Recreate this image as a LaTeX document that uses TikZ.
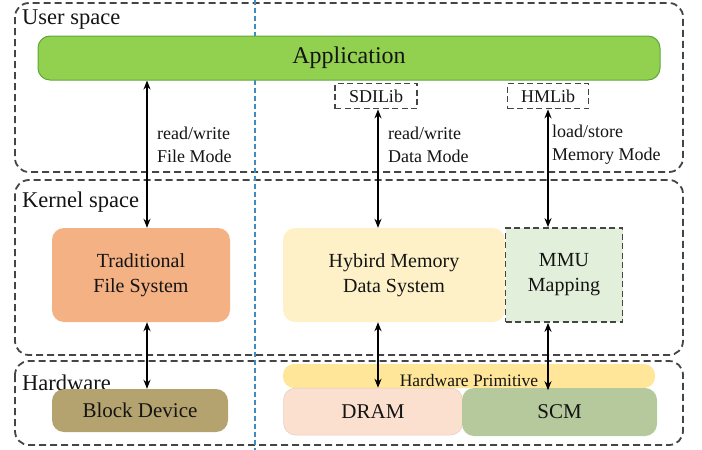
\documentclass[tikz,border=0pt]{standalone}
\usepackage{fontspec}
\setmainfont{Liberation Serif}
\usetikzlibrary{arrows.meta}
\definecolor{regionc}{HTML}{454545}
\definecolor{divc}{HTML}{3E8CC4}
\definecolor{appfill}{HTML}{92D050}
\definecolor{appdraw}{HTML}{5FA83A}
\definecolor{tfsfill}{HTML}{F4B183}
\definecolor{hybfill}{HTML}{FEF1C8}
\definecolor{mmufill}{HTML}{E2EFDA}
\definecolor{hpfill}{HTML}{FFE699}
\definecolor{dramfill}{HTML}{FBE0CF}
\definecolor{scmfill}{HTML}{B5C99C}
\definecolor{bdfill}{HTML}{B4A36F}
\definecolor{txtc}{HTML}{141414}
\tikzset{
  region/.style={draw=regionc, line width=1.8pt, dash pattern=on 7pt off 4pt, rounded corners=14pt},
  regionlabel/.style={anchor=west, inner sep=0pt, font=\fontsize{22.5}{26}\selectfont, text=txtc},
  fillbox/.style={rounded corners=12pt, inner sep=0pt, align=center, text=txtc, font=\fontsize{20}{25}\selectfont},
  libbox/.style={draw=regionc, line width=1.7pt, dash pattern=on 6pt off 3.5pt, inner sep=0pt, font=\fontsize{18}{20}\selectfont, text=txtc},
  modelabel/.style={anchor=west, inner sep=0pt, align=left, font=\fontsize{18}{23}\selectfont, text=txtc},
  arr/.style={line width=1.7pt, {Stealth[length=9pt,width=7pt]}-{Stealth[length=9pt,width=7pt]}},
}
\begin{document}
\begin{tikzpicture}[x=1pt,y=-1pt]
\useasboundingbox (0,0) rectangle (702,450);
% regions
\draw[region] (15,3) rectangle (683,172);
\draw[region] (15,180) rectangle (683,355);
\draw[region] (15,361) rectangle (683,445);
% divider
\draw[divc, line width=1.1pt, dash pattern=on 5pt off 3pt] (255,0) -- (255,450);
% region labels
\node[regionlabel] (lus) at (22,20) {User space};
\node[regionlabel] (lks) at (22,202) {Kernel space};
\node[regionlabel] (lhw) at (22,383) {Hardware};
% user space
\node[fillbox, fill=appfill, draw=appdraw, line width=1pt, minimum width=622pt, minimum height=44pt, font=\fontsize{24}{28}\selectfont] (app) at (349,58) {Application};
\node[libbox, minimum width=82pt, minimum height=25pt] (sdi) at (376,96) {SDILib};
\node[libbox, minimum width=81pt, minimum height=25pt] (hml) at (548,96) {HMLib};
% kernel space
\node[fillbox, fill=tfsfill, minimum width=178pt, minimum height=94pt] (tfs) at (141,275) {Traditional\\File System};
\node[fillbox, fill=hybfill, minimum width=222pt, minimum height=94pt] (hyb) at (394,275) {Hybird Memory\\Data System};
\node[fill=mmufill, draw=regionc, line width=1.7pt, dash pattern=on 6pt off 3.5pt, inner sep=0pt, align=center, text=txtc, font=\fontsize{20}{25}\selectfont, minimum width=117pt, minimum height=94pt] (mmu) at (564,275) {MMU\\Mapping};
% hardware
\node[fill=hpfill, rounded corners=11pt, inner sep=0pt, minimum width=372pt, minimum height=24pt, text height=21pt, text depth=0pt, font=\fontsize{17.5}{19}\selectfont, text=txtc] (hp) at (469,376) {Hardware Primitive};
\node[fillbox, fill=dramfill, draw=dramfill!85!black!60!dramfill, line width=0.5pt, minimum width=179pt, minimum height=47pt, font=\fontsize{21}{25}\selectfont] (dram) at (373,411.5) {DRAM};
\node[fillbox, fill=scmfill, minimum width=195pt, minimum height=48pt, font=\fontsize{21}{25}\selectfont] (scm) at (559.5,412) {SCM};
\node[fillbox, fill=bdfill, minimum width=176pt, minimum height=43pt, font=\fontsize{21}{25}\selectfont] (bd) at (140,410.5) {Block Device};
% arrows
\coordinate (x1) at (147,0);
\draw[arr] (x1 |- app.south) -- (x1 |- tfs.north);
\draw[arr] (sdi.south -| 378,0) -- (hyb.north -| 378,0);
\draw[arr] (hml.south) -- (hml.south |- mmu.north);
\draw[arr] (x1 |- tfs.south) -- (x1 |- bd.north);
\draw[arr] (hyb.south -| 378,0) -- (dram.north -| 378,0);
\draw[arr] (hml.south |- mmu.south) -- ([yshift=-2pt]hml.south |- hp.south);
% labels
\node[modelabel] (m1) at (157,145) {read/write\\File Mode};
\node[modelabel] (m2) at (388,145) {read/write\\Data Mode};
\node[modelabel] (m3) at (552,145) {load/store\\Memory Mode};
\end{tikzpicture}
\end{document}
